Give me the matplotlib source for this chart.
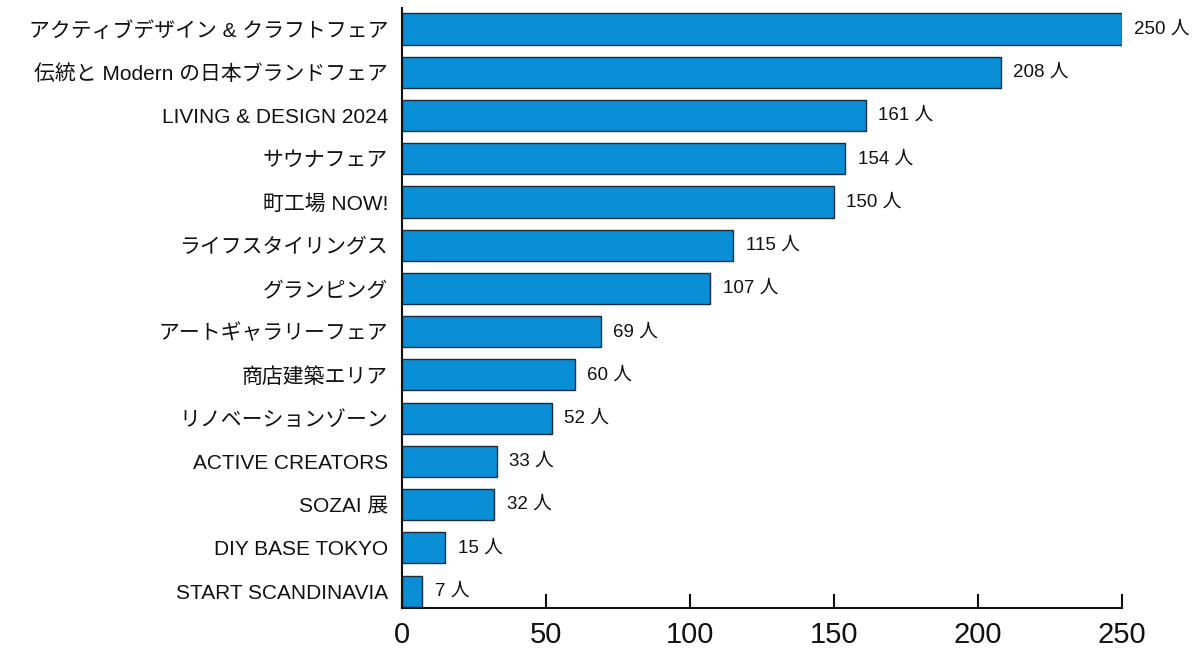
import matplotlib
matplotlib.use("Agg")
import matplotlib.pyplot as plt
from matplotlib.ticker import MultipleLocator

plt.rcParams["font.family"] = ["Liberation Sans", "Noto Sans CJK JP", "DejaVu Sans"]

# データ
categories = [
    "アクティブデザイン & クラフトフェア",
    "伝統と Modern の日本ブランドフェア",
    "LIVING & DESIGN 2024",
    "サウナフェア",
    "町工場 NOW!",
    "ライフスタイリングス",
    "グランピング",
    "アートギャラリーフェア",
    "商店建築エリア",
    "リノベーションゾーン",
    "ACTIVE CREATORS",
    "SOZAI 展",
    "DIY BASE TOKYO",
    "START SCANDINAVIA",
]
values = [250, 208, 161, 154, 150, 115, 107, 69, 60, 52, 33, 32, 15, 7]
unit = "人"

fig = plt.figure(figsize=(12.02, 6.5), dpi=100)
ax = fig.add_axes([0.3344, 0.0646, 0.599, 0.9234])

n = len(categories)
ypos = [n - 1 - i for i in range(n)]
ax.barh(ypos, values, height=0.72, color="#0a8fd6", edgecolor="#1c2c3c", linewidth=1.0)

for y, v in zip(ypos, values):
    ax.annotate(f"{v} {unit}", (v, y), xytext=(9, 0), textcoords="offset points",
                va="center", ha="left", fontsize=13.5, color="#111111")

ax.set_yticks(ypos)
ax.set_yticklabels(categories, fontsize=15, color="#111111")
ax.tick_params(axis="y", length=0, pad=10)

ax.set_xlim(0, 250)
ax.set_ylim(-0.39, n - 1 + 0.49)
ax.xaxis.set_major_locator(MultipleLocator(50))
ax.tick_params(axis="x", direction="in", length=10, width=1.5, labelsize=21, pad=9,
               colors="#111111")

for s in ("top", "right"):
    ax.spines[s].set_visible(False)
for s in ("left", "bottom"):
    ax.spines[s].set_linewidth(1.5)
    ax.spines[s].set_color("#111111")

fig.savefig("out.png", dpi=100)
